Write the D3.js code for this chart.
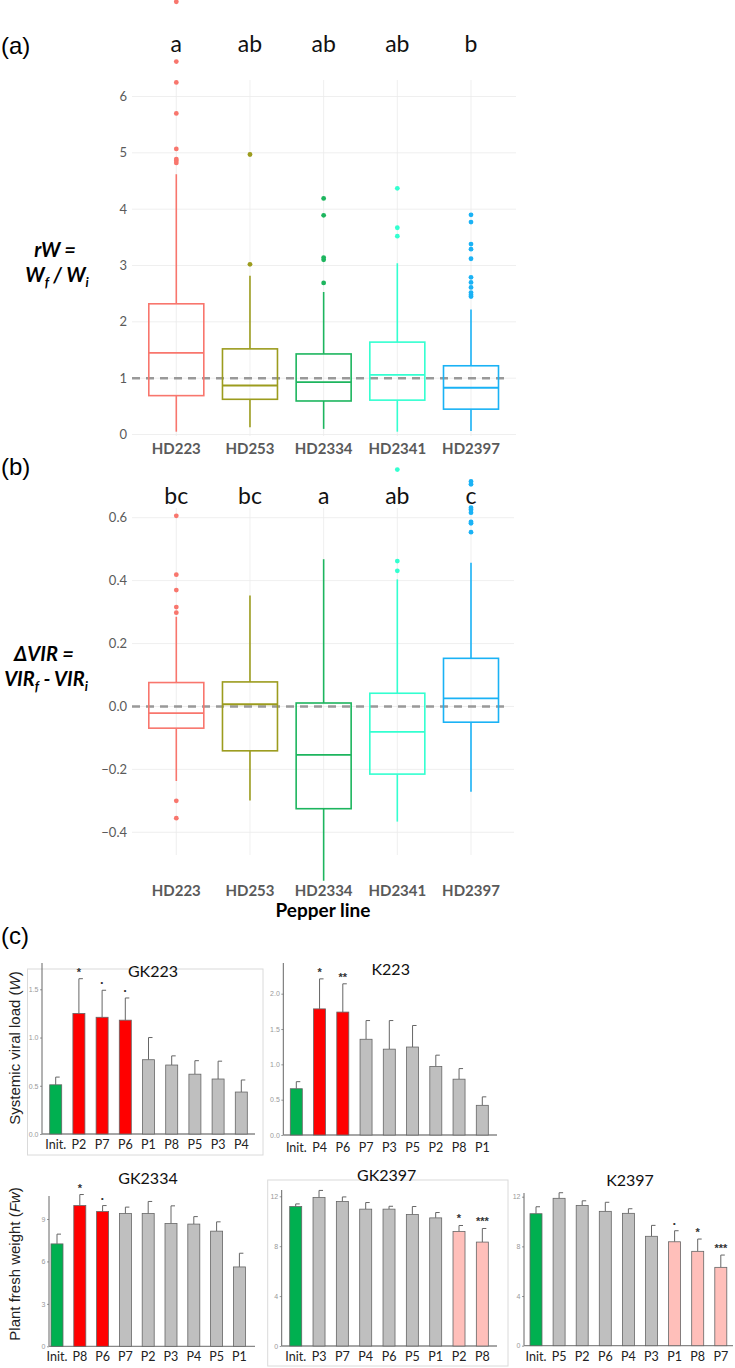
<!DOCTYPE html>
<html>
<head>
<meta charset="utf-8">
<script src="https://cdn.jsdelivr.net/npm/d3@7"></script>
<style>
  body { margin: 0; background: #fff; }
  svg { display: block; }
</style>
</head>
<body>
<script>
// pepper lines, shared by panels (a) and (b)
var lines = ["HD223", "HD253", "HD2334", "HD2341", "HD2397"];
var lineColors = ["#F8766D", "#9C9C1E", "#1DB55E", "#33FFD0", "#1AB2F5"];

// (a) rW = Wf / Wi box stats
var rwLow = [0.05, 0.13, 0.10, 0.05, 0.06];
var rwQ1 = [0.69, 0.625, 0.595, 0.61, 0.45];
var rwMed = [1.45, 0.87, 0.93, 1.06, 0.83];
var rwQ3 = [2.32, 1.52, 1.43, 1.64, 1.22];
var rwHigh = [4.62, 2.82, 2.53, 3.04, 2.22];
var rwOut = [
  [4.82, 4.86, 4.89, 5.07, 5.70, 6.25, 6.62, 7.68],
  [3.02, 4.97],
  [2.69, 3.10, 3.14, 3.89, 4.19],
  [3.52, 3.67, 4.37],
  [2.45, 2.48, 2.52, 2.61, 2.70, 2.79, 3.12, 3.29, 3.38, 3.77, 3.90]
];
var rwLetters = ["a", "ab", "ab", "ab", "b"];
var rwTicks = [0, 1, 2, 3, 4, 5, 6];

// (b) dVIR = VIRf - VIRi box stats
var virLow = [-0.237, -0.299, -0.554, -0.366, -0.271];
var virQ1 = [-0.069, -0.141, -0.325, -0.215, -0.050];
var virMed = [-0.021, 0.007, -0.154, -0.081, 0.026];
var virQ3 = [0.076, 0.078, 0.011, 0.042, 0.153];
var virHigh = [0.285, 0.353, 0.468, 0.404, 0.457];
var virOut = [
  [-0.355, -0.30, 0.298, 0.316, 0.370, 0.419, 0.606],
  [],
  [],
  [0.431, 0.462, 0.753],
  [0.554, 0.582, 0.587, 0.616, 0.625, 0.632, 0.706, 0.715]
];
var virLetters = ["bc", "bc", "a", "ab", "c"];
var virTicks = [-0.4, -0.2, 0, 0.2, 0.4, 0.6];

// (c) bar panels: categories, means, upper error, colour class, significance
var gk223Cats = ["Init.", "P2", "P7", "P6", "P1", "P8", "P5", "P3", "P4"];
var gk223Vals = [0.51, 1.25, 1.21, 1.18, 0.77, 0.715, 0.62, 0.57, 0.435];
var gk223Err = [0.59, 1.61, 1.49, 1.41, 1.00, 0.81, 0.76, 0.755, 0.56];
var gk223Cls = ["init", "up", "up", "up", "ns", "ns", "ns", "ns", "ns"];
var gk223Sig = ["", "*", "·", "·", "", "", "", "", ""];

var k223Cats = ["Init.", "P4", "P6", "P7", "P3", "P5", "P2", "P8", "P1"];
var k223Vals = [0.655, 1.785, 1.74, 1.355, 1.215, 1.245, 0.97, 0.79, 0.42];
var k223Err = [0.755, 2.21, 2.14, 1.62, 1.62, 1.55, 1.13, 0.94, 0.54];
var k223Cls = ["init", "up", "up", "ns", "ns", "ns", "ns", "ns", "ns"];
var k223Sig = ["", "*", "**", "", "", "", "", "", ""];

var gk2334Cats = ["Init.", "P8", "P6", "P7", "P2", "P3", "P4", "P5", "P1"];
var gk2334Vals = [7.24, 9.95, 9.53, 9.39, 9.39, 8.68, 8.64, 8.14, 5.61];
var gk2334Err = [7.93, 10.73, 9.95, 9.84, 10.24, 9.93, 9.17, 8.80, 6.58];
var gk2334Cls = ["init", "up", "up", "ns", "ns", "ns", "ns", "ns", "ns"];
var gk2334Sig = ["", "*", "·", "", "", "", "", "", ""];

var gk2397Cats = ["Init.", "P3", "P7", "P4", "P6", "P5", "P1", "P2", "P8"];
var gk2397Vals = [11.18, 11.9, 11.58, 10.97, 10.97, 10.54, 10.27, 9.18, 8.33];
var gk2397Err = [11.39, 12.47, 11.95, 11.5, 11.2, 11.18, 10.7, 9.66, 9.42];
var gk2397Cls = ["init", "ns", "ns", "ns", "ns", "ns", "ns", "down", "down"];
var gk2397Sig = ["", "", "", "", "", "", "", "*", "***"];

var k2397Cats = ["Init.", "P5", "P2", "P6", "P4", "P3", "P1", "P8", "P7"];
var k2397Vals = [10.63, 11.87, 11.3, 10.82, 10.66, 8.81, 8.37, 7.6, 6.31];
var k2397Err = [11.19, 12.32, 11.67, 11.55, 11.03, 9.69, 9.26, 8.59, 7.30];
var k2397Cls = ["init", "ns", "ns", "ns", "ns", "ns", "down", "down", "down"];
var k2397Sig = ["", "", "", "", "", "", "·", "*", "***"];

var barColor = { init: "#00B050", up: "#FF0000", down: "#FFBFBA", ns: "#BFBFBF" };

var svg = d3.select("body").append("svg")
  .attr("width", 735)
  .attr("height", 1368);

var sans = "Lato, 'Open Sans', sans-serif";
var arial = "'Liberation Sans', Arial, sans-serif";

// ---------- box plot panels ----------
function boxPanel(p) {
  var g = svg.append("g");
  var x = d3.scalePoint().domain(lines).range([176.3, 471]);
  var y = p.y;
  var bw = 55;

  // grid
  g.selectAll(".hg").data(p.ticks).enter().append("line")
    .attr("x1", 132).attr("x2", p.gridRight)
    .attr("y1", d => y(d)).attr("y2", d => y(d))
    .attr("stroke", "#EBEBEB").attr("stroke-width", 0.8);
  g.selectAll(".vg").data(lines).enter().append("line")
    .attr("x1", d => x(d)).attr("x2", d => x(d))
    .attr("y1", p.gridTop).attr("y2", p.gridBottom)
    .attr("stroke", "#EBEBEB").attr("stroke-width", 0.8);

  // tick labels
  g.selectAll(".tl").data(p.ticks).enter().append("text")
    .attr("x", 127).attr("y", d => y(d))
    .attr("dy", "0.35em")
    .attr("text-anchor", "end")
    .style("font-family", sans).style("font-size", "13px")
    .attr("fill", "#5A5A5A")
    .text(p.fmt);

  // reference dashed line
  g.append("line")
    .attr("x1", 132).attr("x2", 508)
    .attr("y1", y(p.ref)).attr("y2", y(p.ref))
    .attr("stroke", "#999").attr("stroke-width", 2.5)
    .attr("stroke-dasharray", "8,6");

  lines.forEach(function(l, i) {
    var cx = x(l), col = lineColors[i];
    g.append("line")
      .attr("x1", cx).attr("x2", cx)
      .attr("y1", y(p.low[i])).attr("y2", y(p.q1[i]))
      .attr("stroke", col).attr("stroke-width", 1.6);
    g.append("line")
      .attr("x1", cx).attr("x2", cx)
      .attr("y1", y(p.q3[i])).attr("y2", y(p.high[i]))
      .attr("stroke", col).attr("stroke-width", 1.6);
    g.append("rect")
      .attr("x", cx - bw / 2).attr("width", bw)
      .attr("y", y(p.q3[i])).attr("height", y(p.q1[i]) - y(p.q3[i]))
      .attr("fill", "none").attr("stroke", col).attr("stroke-width", 1.6);
    g.append("line")
      .attr("x1", cx - bw / 2).attr("x2", cx + bw / 2)
      .attr("y1", y(p.med[i])).attr("y2", y(p.med[i]))
      .attr("stroke", col).attr("stroke-width", 1.8);
    g.selectAll(null).data(p.out[i]).enter().append("circle")
      .attr("cx", cx).attr("cy", d => y(d)).attr("r", 2.4)
      .attr("fill", col);

    // letters
    g.append("text")
      .attr("x", cx).attr("y", p.letterY)
      .attr("text-anchor", "middle")
      .style("font-family", sans).style("font-size", "23px")
      .attr("fill", "#111")
      .text(p.letters[i]);

    // category labels
    g.append("text")
      .attr("x", cx).attr("y", p.labelY)
      .attr("text-anchor", "middle")
      .style("font-family", sans).style("font-size", "15px").style("font-weight", "bold")
      .attr("fill", "#5A5A5A")
      .text(l);
  });

  // y label (two lines)
  var t1 = g.append("text").attr("x", p.ylabX).attr("y", p.ylabY)
    .attr("text-anchor", "middle")
    .style("font-family", sans).style("font-size", "20px")
    .style("font-weight", "bold").style("font-style", "italic");
  t1.text(p.ylab1);
  var t2 = g.append("text").attr("x", p.ylabX + 2).attr("y", p.ylabY + 25)
    .attr("text-anchor", "middle")
    .style("font-family", sans).style("font-size", "20px")
    .style("font-weight", "bold").style("font-style", "italic");
  p.ylab2.forEach(function(part) {
    var ts = t2.append("tspan").text(part.t);
    if (part.sub) ts.attr("dy", 5).style("font-size", "13px");
    else if (part.after) ts.attr("dy", -5);
  });

  // panel tag
  svg.append("text")
    .attr("x", 1).attr("y", p.tagY)
    .style("font-family", arial).style("font-size", "24px")
    .text(p.tag);
}

boxPanel({
  y: d3.scaleLinear().domain([0, 6]).range([434.5, 96.5]),
  ticks: rwTicks, fmt: d3.format("d"), ref: 1,
  low: rwLow, q1: rwQ1, med: rwMed, q3: rwQ3, high: rwHigh, out: rwOut,
  letters: rwLetters, letterY: 52, labelY: 454,
  gridTop: 80, gridBottom: 436, gridRight: 516,
  ylabX: 55, ylabY: 257, ylab1: "rW =",
  ylab2: [{ t: "W" }, { t: "f", sub: true }, { t: " / W", after: true }, { t: "i", sub: true }],
  tag: "(a)", tagY: 54
});

boxPanel({
  y: d3.scaleLinear().domain([-0.4, 0.6]).range([832.3, 517.7]),
  ticks: virTicks, fmt: d3.format(".1f"), ref: 0,
  low: virLow, q1: virQ1, med: virMed, q3: virQ3, high: virHigh, out: virOut,
  letters: virLetters, letterY: 504, labelY: 896,
  gridTop: 508, gridBottom: 855, gridRight: 514,
  ylabX: 44, ylabY: 661, ylab1: "ΔVIR =",
  ylab2: [{ t: "VIR" }, { t: "f", sub: true }, { t: " - VIR", after: true }, { t: "i", sub: true }],
  tag: "(b)", tagY: 475
});

svg.append("text")
  .attr("x", 323).attr("y", 917)
  .attr("text-anchor", "middle")
  .style("font-family", sans).style("font-size", "19px").style("font-weight", "bold")
  .text("Pepper line");

// ---------- bar panels ----------
function barPanel(p) {
  var g = svg.append("g");
  var y = d3.scaleLinear().domain([0, p.ymax]).range([p.base, p.yAtMax]);
  var x = d3.scalePoint().domain(p.cats).range([p.x0, p.x0 + p.step * (p.cats.length - 1)]);
  var bw = 12;

  if (p.frame) {
    g.append("rect")
      .attr("x", p.frame[0]).attr("y", p.frame[1])
      .attr("width", p.frame[2] - p.frame[0]).attr("height", p.frame[3] - p.frame[1])
      .attr("fill", "none").attr("stroke", "#DADADA").attr("stroke-width", 1);
  }

  // y axis
  var ax = g.append("g")
    .attr("transform", "translate(" + p.axisX + ",0)")
    .call(d3.axisLeft(y).tickValues(p.ticks).tickFormat(p.fmt).tickSize(2).tickPadding(1.5));
  ax.select(".domain").remove();
  ax.selectAll("line").attr("stroke", "#999");
  ax.selectAll("text").style("font-family", arial).style("font-size", "7px").attr("fill", "#999");
  g.append("line")
    .attr("x1", p.axisX).attr("x2", p.axisX)
    .attr("y1", p.top).attr("y2", p.base)
    .attr("stroke", "#666").attr("stroke-width", 1);
  g.append("line")
    .attr("x1", p.axisX).attr("x2", p.right)
    .attr("y1", p.base).attr("y2", p.base)
    .attr("stroke", "#888").attr("stroke-width", 1.3);

  p.cats.forEach(function(c, i) {
    var cx = x(c);
    // error bar (upper only)
    g.append("line")
      .attr("x1", cx).attr("x2", cx)
      .attr("y1", y(p.vals[i])).attr("y2", y(p.err[i]))
      .attr("stroke", "#666").attr("stroke-width", 1);
    g.append("line")
      .attr("x1", cx).attr("x2", cx + 4)
      .attr("y1", y(p.err[i])).attr("y2", y(p.err[i]))
      .attr("stroke", "#666").attr("stroke-width", 1);
    g.append("rect")
      .attr("x", cx - bw / 2).attr("width", bw)
      .attr("y", y(p.vals[i])).attr("height", y(0) - y(p.vals[i]))
      .attr("fill", barColor[p.cls[i]])
      .attr("stroke", "#666").attr("stroke-width", 0.8);
    if (p.sig[i]) {
      g.append("text")
        .attr("x", cx).attr("y", y(p.err[i]) - 3)
        .attr("text-anchor", "middle")
        .style("font-family", arial)
        .style("font-size", p.sig[i] === "·" ? "13px" : "11px")
        .style("font-weight", "bold")
        .attr("fill", "#333")
        .text(p.sig[i]);
    }
    g.append("text")
      .attr("x", cx).attr("y", p.labY)
      .attr("dy", "0.35em")
      .attr("text-anchor", "middle")
      .style("font-family", sans).style("font-size", "12.5px")
      .attr("fill", "#222")
      .text(c);
  });

  g.append("text")
    .attr("x", p.titleX).attr("y", p.titleY)
    .attr("dy", "0.35em")
    .attr("text-anchor", "middle")
    .style("font-family", sans).style("font-size", "16px")
    .attr("fill", "#111")
    .text(p.title);
}

barPanel({
  title: "GK223", cats: gk223Cats, vals: gk223Vals, err: gk223Err, cls: gk223Cls, sig: gk223Sig,
  ymax: 1.5, base: 1134, yAtMax: 989.3, top: 963, axisX: 42, right: 255,
  x0: 55.7, step: 23.2, ticks: [0, 0.5, 1, 1.5], fmt: d3.format(".1f"),
  titleX: 153, titleY: 971, labY: 1145, frame: [27.5, 969, 263, 1155]
});
barPanel({
  title: "K223", cats: k223Cats, vals: k223Vals, err: k223Err, cls: k223Cls, sig: k223Sig,
  ymax: 2, base: 1135, yAtMax: 993.7, top: 963, axisX: 283.3, right: 497,
  x0: 296.3, step: 23.25, ticks: [0, 0.5, 1, 1.5, 2], fmt: d3.format(".1f"),
  titleX: 390.7, titleY: 969, labY: 1148
});
barPanel({
  title: "GK2334", cats: gk2334Cats, vals: gk2334Vals, err: gk2334Err, cls: gk2334Cls, sig: gk2334Sig,
  ymax: 9, base: 1346.3, yAtMax: 1219, top: 1196, axisX: 49, right: 255,
  x0: 57, step: 22.8, ticks: [0, 3, 6, 9], fmt: d3.format("d"),
  titleX: 148, titleY: 1178, labY: 1357
});
barPanel({
  title: "GK2397", cats: gk2397Cats, vals: gk2397Vals, err: gk2397Err, cls: gk2397Cls, sig: gk2397Sig,
  ymax: 12, base: 1346, yAtMax: 1196.3, top: 1190, axisX: 281.7, right: 497,
  x0: 295.7, step: 23.33, ticks: [0, 4, 8, 12], fmt: d3.format("d"),
  titleX: 386.7, titleY: 1175, labY: 1357, frame: [267.7, 1180, 508, 1366]
});
barPanel({
  title: "K2397", cats: k2397Cats, vals: k2397Vals, err: k2397Err, cls: k2397Cls, sig: k2397Sig,
  ymax: 12, base: 1345.7, yAtMax: 1196.7, top: 1193, axisX: 524, right: 733,
  x0: 536, step: 23.1, ticks: [0, 4, 8, 12], fmt: d3.format("d"),
  titleX: 630, titleY: 1180, labY: 1357
});

// (c) tag and y labels
svg.append("text")
  .attr("x", 1).attr("y", 944)
  .style("font-family", arial).style("font-size", "24px")
  .text("(c)");

function rotLabel(cy, main, ital) {
  var t = svg.append("text")
    .attr("transform", "translate(20," + cy + ") rotate(-90)")
    .attr("text-anchor", "middle")
    .style("font-family", arial).style("font-size", "15px")
    .attr("fill", "#222");
  t.append("tspan").text(main + " (");
  t.append("tspan").style("font-style", "italic").text(ital);
  t.append("tspan").text(")");
}
rotLabel(1048, "Systemic viral load", "W");
rotLabel(1264, "Plant fresh weight", "Fw");
</script>
</body>
</html>
